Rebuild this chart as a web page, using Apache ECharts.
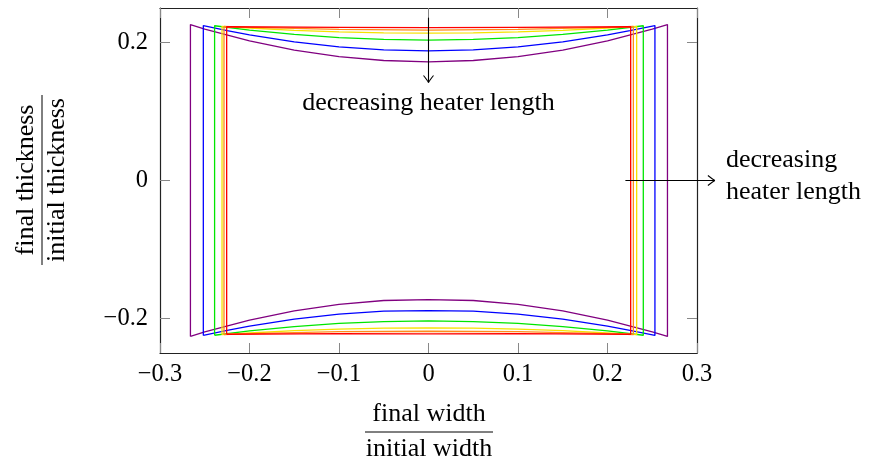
<!DOCTYPE html>
<html>
<head>
<meta charset="utf-8">
<script src="https://cdn.jsdelivr.net/npm/echarts@6/dist/echarts.min.js"></script>
<style>
  html, body { margin: 0; padding: 0; background: #fff; }
  #chart { width: 869px; height: 463px; }
</style>
</head>
<body>
<div id="chart"></div>
<script>
// Cross-section outlines: sample positions along the width and the
// upper / lower thickness boundary at each of them.
const purpleX      = [-0.266, -0.25, -0.2, -0.15, -0.1, -0.05, 0, 0.05, 0.1, 0.15, 0.2, 0.25, 0.267];
const purpleTop    = [0.226, 0.2195, 0.2024, 0.1891, 0.1796, 0.1739, 0.172, 0.1739, 0.1796, 0.1891, 0.2024, 0.2195, 0.226];
const purpleBottom = [-0.226, -0.2195, -0.2024, -0.1891, -0.1796, -0.1739, -0.1725, -0.1739, -0.1796, -0.1891, -0.2024, -0.2195, -0.226];

const blueX      = [-0.2516, -0.225, -0.2, -0.15, -0.1, -0.05, 0, 0.05, 0.1, 0.15, 0.2, 0.225, 0.253];
const blueTop    = [0.2245, 0.2171, 0.211, 0.2009, 0.1938, 0.1894, 0.188, 0.1894, 0.1938, 0.2009, 0.211, 0.2171, 0.2245];
const blueBottom = [-0.2245, -0.2171, -0.211, -0.2009, -0.1938, -0.1894, -0.1885, -0.1894, -0.1938, -0.2009, -0.211, -0.2171, -0.2245];

const greenX      = [-0.239, -0.2, -0.15, -0.1, -0.05, 0, 0.05, 0.1, 0.15, 0.2, 0.24];
const greenTop    = [0.2243, 0.218, 0.2117, 0.2071, 0.2044, 0.2035, 0.2044, 0.2071, 0.2117, 0.218, 0.2243];
const greenBottom = [-0.2243, -0.218, -0.2117, -0.2071, -0.2044, -0.2033, -0.2044, -0.2071, -0.2117, -0.218, -0.2243];

const yellowX      = [-0.2307, -0.2, -0.15, -0.1, -0.05, 0, 0.05, 0.1, 0.15, 0.2, 0.2326];
const yellowTop    = [0.2235, 0.221, 0.2177, 0.2154, 0.214, 0.2135, 0.214, 0.2154, 0.2177, 0.221, 0.2235];
const yellowBottom = [-0.2235, -0.221, -0.2177, -0.2154, -0.214, -0.2137, -0.214, -0.2154, -0.2177, -0.221, -0.2235];

const orangeX      = [-0.2285, -0.2, -0.1, 0, 0.1, 0.2, 0.2289];
const orangeTop    = [0.2232, 0.222, 0.219, 0.218, 0.219, 0.222, 0.2232];
const orangeBottom = [-0.2232, -0.222, -0.219, -0.2185, -0.219, -0.222, -0.2232];

const redX      = [-0.2255, -0.1, 0, 0.1, 0.2259];
const redTop    = [0.2228, 0.222, 0.2217, 0.222, 0.2228];
const redBottom = [-0.2228, -0.222, -0.2222, -0.222, -0.2228];

// Axis tick values
const xTicks = [-0.3, -0.2, -0.1, 0, 0.1, 0.2, 0.3];
const yTicks = [-0.2, 0, 0.2];

// Annotation arrows: [x0, y0, x1, y1]
const arrows = [
  [0, 0.236, 0, 0.142],
  [0.22, 0, 0.32, 0]
];

const outlines = [
  { name: 'purple', color: '#800080', x: purpleX, top: purpleTop, bottom: purpleBottom },
  { name: 'blue',   color: '#0000ff', x: blueX,   top: blueTop,   bottom: blueBottom },
  { name: 'green',  color: '#00e600', x: greenX,  top: greenTop,  bottom: greenBottom },
  { name: 'yellow', color: '#f5e200', x: yellowX, top: yellowTop, bottom: yellowBottom },
  { name: 'orange', color: '#ff8c1a', x: orangeX, top: orangeTop, bottom: orangeBottom },
  { name: 'red',    color: '#ff0000', x: redX,    top: redTop,    bottom: redBottom }
];

// Closed path: up the left side, across the top, down the right side, back along the bottom.
function closedPath(o) {
  const pts = [];
  const n = o.x.length;
  pts.push([o.x[0], o.bottom[0]]);
  for (let i = 0; i < n; i++) pts.push([o.x[i], o.top[i]]);
  for (let i = n - 1; i >= 0; i--) pts.push([o.x[i], o.bottom[i]]);
  return pts;
}

const FONT = '"Liberation Serif", "DejaVu Serif", serif';
const TXT = '26px ' + FONT;
const fmt = v => String(Math.round(v * 10) / 10).replace('-', '\u2212');

const chart = echarts.init(document.getElementById('chart'), null, { renderer: 'canvas' });

const frame = { show: true, lineStyle: { color: '#222', width: 1.2 } };
const ticks = (vals) => ({ show: true, inside: true, length: 10, customValues: vals, lineStyle: { color: '#888', width: 1 } });

const series = outlines.map(o => ({
  name: o.name,
  type: 'line',
  data: closedPath(o),
  showSymbol: false,
  symbol: 'none',
  lineStyle: { color: o.color, width: 1.3 },
  itemStyle: { color: o.color },
  animation: false,
  z: 2
}));

series.push({
  type: 'custom',
  name: 'arrows',
  data: arrows,
  encode: { x: [0, 2], y: [1, 3] },
  clip: false,
  z: 5,
  animation: false,
  renderItem: function (params, api) {
    const a = api.coord([api.value(0), api.value(1)]);
    const b = api.coord([api.value(2), api.value(3)]);
    const dx = b[0] - a[0], dy = b[1] - a[1];
    const len = Math.sqrt(dx * dx + dy * dy);
    const ux = dx / len, uy = dy / len;
    const px = -uy, py = ux;
    const hl = 7, hw = 5;
    const back = [b[0] - ux * hl, b[1] - uy * hl];
    return {
      type: 'group',
      children: [
        { type: 'line', shape: { x1: a[0], y1: a[1], x2: b[0], y2: b[1] },
          style: { stroke: '#000', lineWidth: 1.1 } },
        { type: 'bezierCurve',
          shape: { x1: back[0] + px * hw, y1: back[1] + py * hw, cpx1: b[0] - ux * 2 + px * 1, cpy1: b[1] - uy * 2 + py * 1, x2: b[0], y2: b[1] },
          style: { stroke: '#000', lineWidth: 1.1, fill: null } },
        { type: 'bezierCurve',
          shape: { x1: back[0] - px * hw, y1: back[1] - py * hw, cpx1: b[0] - ux * 2 - px * 1, cpy1: b[1] - uy * 2 - py * 1, x2: b[0], y2: b[1] },
          style: { stroke: '#000', lineWidth: 1.1, fill: null } }
      ]
    };
  }
});

const tickLabel = { color: '#000', fontFamily: FONT, fontSize: 24.5 };

const option = {
  backgroundColor: '#fff',
  animation: false,
  grid: { left: 160, right: 172, top: 8, bottom: 110, containLabel: false },
  xAxis: [
    {
      type: 'value', min: -0.3, max: 0.3, position: 'bottom',
      axisLine: Object.assign({ onZero: false }, frame),
      axisTick: ticks(xTicks),
      axisLabel: Object.assign({ customValues: xTicks, formatter: fmt, margin: 9 }, tickLabel),
      splitLine: { show: false }
    },
    {
      type: 'value', min: -0.3, max: 0.3, position: 'top',
      axisLine: Object.assign({ onZero: false }, frame),
      axisTick: ticks(xTicks),
      axisLabel: { show: false },
      splitLine: { show: false }
    }
  ],
  yAxis: [
    {
      type: 'value', min: -0.25, max: 0.25, position: 'left',
      axisLine: Object.assign({ onZero: false }, frame),
      axisTick: ticks(yTicks),
      axisLabel: Object.assign({ customValues: yTicks, formatter: fmt, margin: 12 }, tickLabel),
      splitLine: { show: false }
    },
    {
      type: 'value', min: -0.25, max: 0.25, position: 'right',
      axisLine: Object.assign({ onZero: false }, frame),
      axisTick: ticks(yTicks),
      axisLabel: { show: false },
      splitLine: { show: false }
    }
  ],
  series: series,
  graphic: [
    { type: 'text',
      style: { text: 'decreasing heater length', x: 428.5, y: 103, align: 'center', verticalAlign: 'middle', fill: '#000', font: TXT } },
    { type: 'text',
      style: { text: 'decreasing\nheater length', x: 726, y: 176.5, align: 'left', verticalAlign: 'middle', lineHeight: 32, fill: '#000', font: TXT } },
    // x-axis title as a fraction
    { type: 'group', x: 429, y: 432, children: [
      { type: 'text', style: { text: 'final width', x: 0, y: -18, align: 'center', verticalAlign: 'middle', fill: '#000', font: TXT } },
      { type: 'line', shape: { x1: -64, y1: 0, x2: 64, y2: 0 }, style: { stroke: '#000', lineWidth: 1 } },
      { type: 'text', style: { text: 'initial width', x: 0, y: 17, align: 'center', verticalAlign: 'middle', fill: '#000', font: TXT } }
    ] },
    // y-axis title as a fraction, rotated
    { type: 'group', x: 42, y: 180, rotation: Math.PI / 2, children: [
      { type: 'text', style: { text: 'final thickness', x: 0, y: -16, align: 'center', verticalAlign: 'middle', fill: '#000', font: TXT } },
      { type: 'line', shape: { x1: -85, y1: 0, x2: 85, y2: 0 }, style: { stroke: '#000', lineWidth: 1 } },
      { type: 'text', style: { text: 'initial thickness', x: 0, y: 15, align: 'center', verticalAlign: 'middle', fill: '#000', font: TXT } }
    ] }
  ]
};

chart.setOption(option);
</script>
</body>
</html>
